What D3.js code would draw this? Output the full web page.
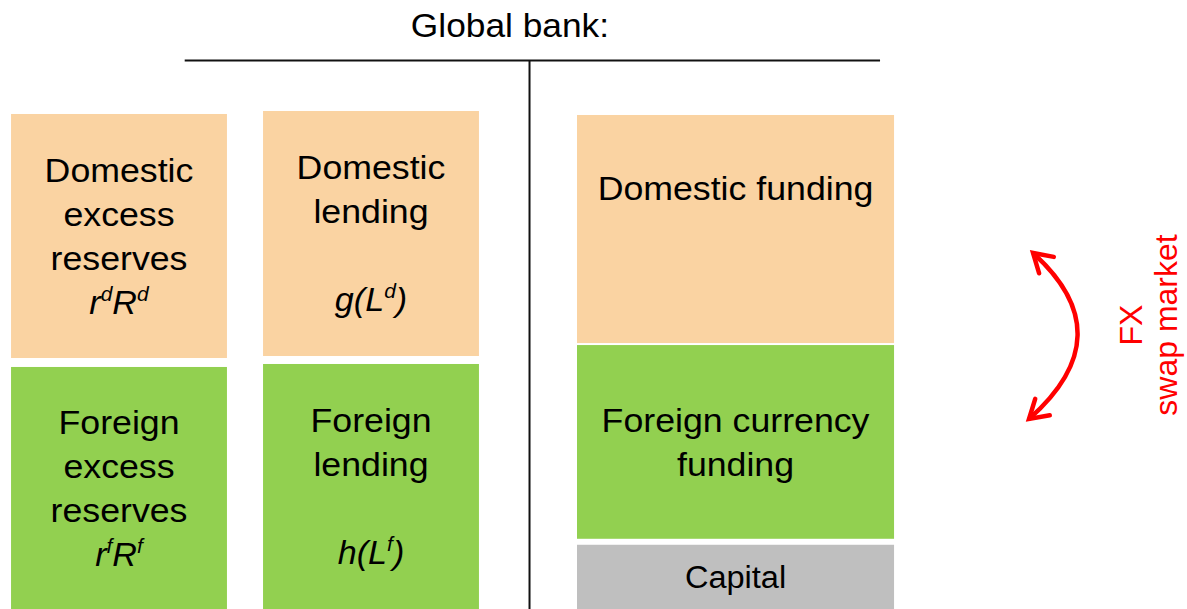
<!DOCTYPE html>
<html>
<head>
<meta charset="utf-8">
<script src="https://cdn.jsdelivr.net/npm/d3@7"></script>
<style>
  html, body { margin: 0; padding: 0; background: #ffffff; }
  svg { display: block; }
  text { font-family: "Liberation Sans", Arial, sans-serif; }
</style>
</head>
<body>
<svg id="chart" width="1187" height="609"></svg>
<script>
// ---- data ----
const title = "Global bank:";
const columns = ["reserves", "lending", "funding"];
// column extents as share of page width
const columnLeft  = [0.0093, 0.2216, 0.4861];
const columnRight = [0.1912, 0.4035, 0.7532];

const blockIds     = ["domRes", "forRes", "domLend", "forLend", "domFund", "fxFund", "capital"];
const blockColumn  = ["reserves", "reserves", "lending", "lending", "funding", "funding", "funding"];
// balance-sheet share (bottom -> top), 0..100
const blockStart   = [50.4, 0, 50.8, 0, 53.4, 14.1, 0];
const blockEnd     = [99.4, 48.6, 100, 49.2, 99.2, 53.0, 12.9];
const blockKind    = ["domestic", "foreign", "domestic", "foreign", "domestic", "foreign", "capital"];
const blockLines   = [
  ["Domestic", "excess", "reserves"],
  ["Foreign", "excess", "reserves"],
  ["Domestic", "lending", ""],
  ["Foreign", "lending", ""],
  ["Domestic funding", "", ""],
  ["Foreign currency", "funding"],
  ["Capital"]
];
// math labels: [text, superscript?]
const blockMath = [
  [["r", false], ["d", true], ["R", false], ["d", true]],
  [["r", false], ["f", true], ["R", false], ["f", true]],
  [["g(L", false], ["d", true], [")", false]],
  [["h(L", false], ["f", true], [")", false]],
  [], [], []
];
const kindColor = { domestic: "#FAD3A2", foreign: "#92D050", capital: "#BFBFBF" };
const swapLabel = ["FX", "swap market"];

// ---- scales ----
const W = 1187, H = 609;
const svg = d3.select("#chart");
const x = d3.scaleLinear().domain([0, 1]).range([0, W]);
const y = d3.scaleLinear().domain([0, 100]).range([H, 111]);
const colIndex = c => columns.indexOf(c);

// ---- title and T-account lines ----
svg.append("text")
  .attr("transform", `translate(${x(0.4296)},37) scale(1.07,1)`)
  .attr("text-anchor", "middle")
  .attr("font-size", 33)
  .attr("fill", "#000")
  .text(title);

svg.append("line")
  .attr("x1", x(0.1556)).attr("x2", x(0.7414))
  .attr("y1", 60.5).attr("y2", 60.5)
  .attr("stroke", "#111").attr("stroke-width", 2);
svg.append("line")
  .attr("x1", x(0.4461)).attr("x2", x(0.4461))
  .attr("y1", 60).attr("y2", H)
  .attr("stroke", "#111").attr("stroke-width", 2);

// ---- blocks ----
const blocks = blockIds.map((id, i) => ({
  id, col: colIndex(blockColumn[i]), start: blockStart[i], end: blockEnd[i],
  kind: blockKind[i], lines: blockLines[i], math: blockMath[i]
}));

const g = svg.selectAll("g.block").data(blocks).join("g").attr("class", "block");

g.append("rect")
  .attr("x", d => x(columnLeft[d.col]))
  .attr("width", d => x(columnRight[d.col]) - x(columnLeft[d.col]))
  .attr("y", d => y(d.end))
  .attr("height", d => y(d.start) - y(d.end))
  .attr("fill", d => kindColor[d.kind]);

const lh = 44;
g.each(function(d) {
  const sel = d3.select(this);
  const cx = (x(columnLeft[d.col]) + x(columnRight[d.col])) / 2;
  const cy = (y(d.start) + y(d.end)) / 2;
  const n = d.lines.length + (d.math.length ? 1 : 0);
  const fs = d.kind === "capital" ? 31 : 34;
  const cap = fs * 0.7;
  const extra = d.id === "domFund" ? 3 : 0;
  const first = cy - (n - 1) * lh / 2 + cap / 2 + extra;
  const t = sel.append("g").attr("transform", `translate(${cx},0) scale(1.05,1)`);
  d.lines.forEach((ln, k) => {
    if (!ln) return;
    t.append("text")
      .attr("x", 0).attr("y", first + k * lh)
      .attr("text-anchor", "middle")
      .attr("font-size", fs)
      .attr("fill", "#000")
      .text(ln);
  });
  if (d.math.length) {
    const mt = t.append("text")
      .attr("x", 0).attr("y", first + d.lines.length * lh)
      .attr("text-anchor", "middle")
      .attr("font-size", 32.5)
      .attr("font-style", "italic")
      .attr("fill", "#000");
    let raised = false;
    d.math.forEach(([s, sup]) => {
      const ts = mt.append("tspan").text(s);
      if (sup && !raised) { ts.attr("dy", -13).attr("font-size", 20); raised = true; }
      else if (sup) { ts.attr("font-size", 20); }
      else if (raised) { ts.attr("dy", 13); raised = false; }
    });
  }
});

// ---- FX swap arrow ----
const defs = svg.append("defs");
defs.append("marker")
  .attr("id", "chev")
  .attr("viewBox", "-26 -26 52 52")
  .attr("refX", 0).attr("refY", 0)
  .attr("markerWidth", 52).attr("markerHeight", 52)
  .attr("markerUnits", "userSpaceOnUse")
  .attr("orient", "auto-start-reverse")
  .append("path")
  .attr("d", "M -18,-11 L 0,0 L -18,11")
  .attr("fill", "none")
  .attr("stroke", "#FF0000")
  .attr("stroke-width", 4.5)
  .attr("stroke-linecap", "round")
  .attr("stroke-linejoin", "miter");

const arc = d3.path();
arc.moveTo(x(0.8703), 253);
arc.quadraticCurveTo(x(0.9470), 335, x(0.8669), 419);
svg.append("path")
  .attr("d", arc.toString())
  .attr("fill", "none")
  .attr("stroke", "#FF0000")
  .attr("stroke-width", 4.5)
  .attr("marker-start", "url(#chev)")
  .attr("marker-end", "url(#chev)");

// ---- FX label (rotated) ----
const lx = [x(0.9620), x(0.9916)];
swapLabel.forEach((s, i) => {
  svg.append("text")
    .attr("transform", `translate(${lx[i]},325) rotate(-90)`)
    .attr("text-anchor", "middle")
    .attr("font-size", 32)
    .attr("fill", "#FF0000")
    .text(s);
});
</script>
</body>
</html>
